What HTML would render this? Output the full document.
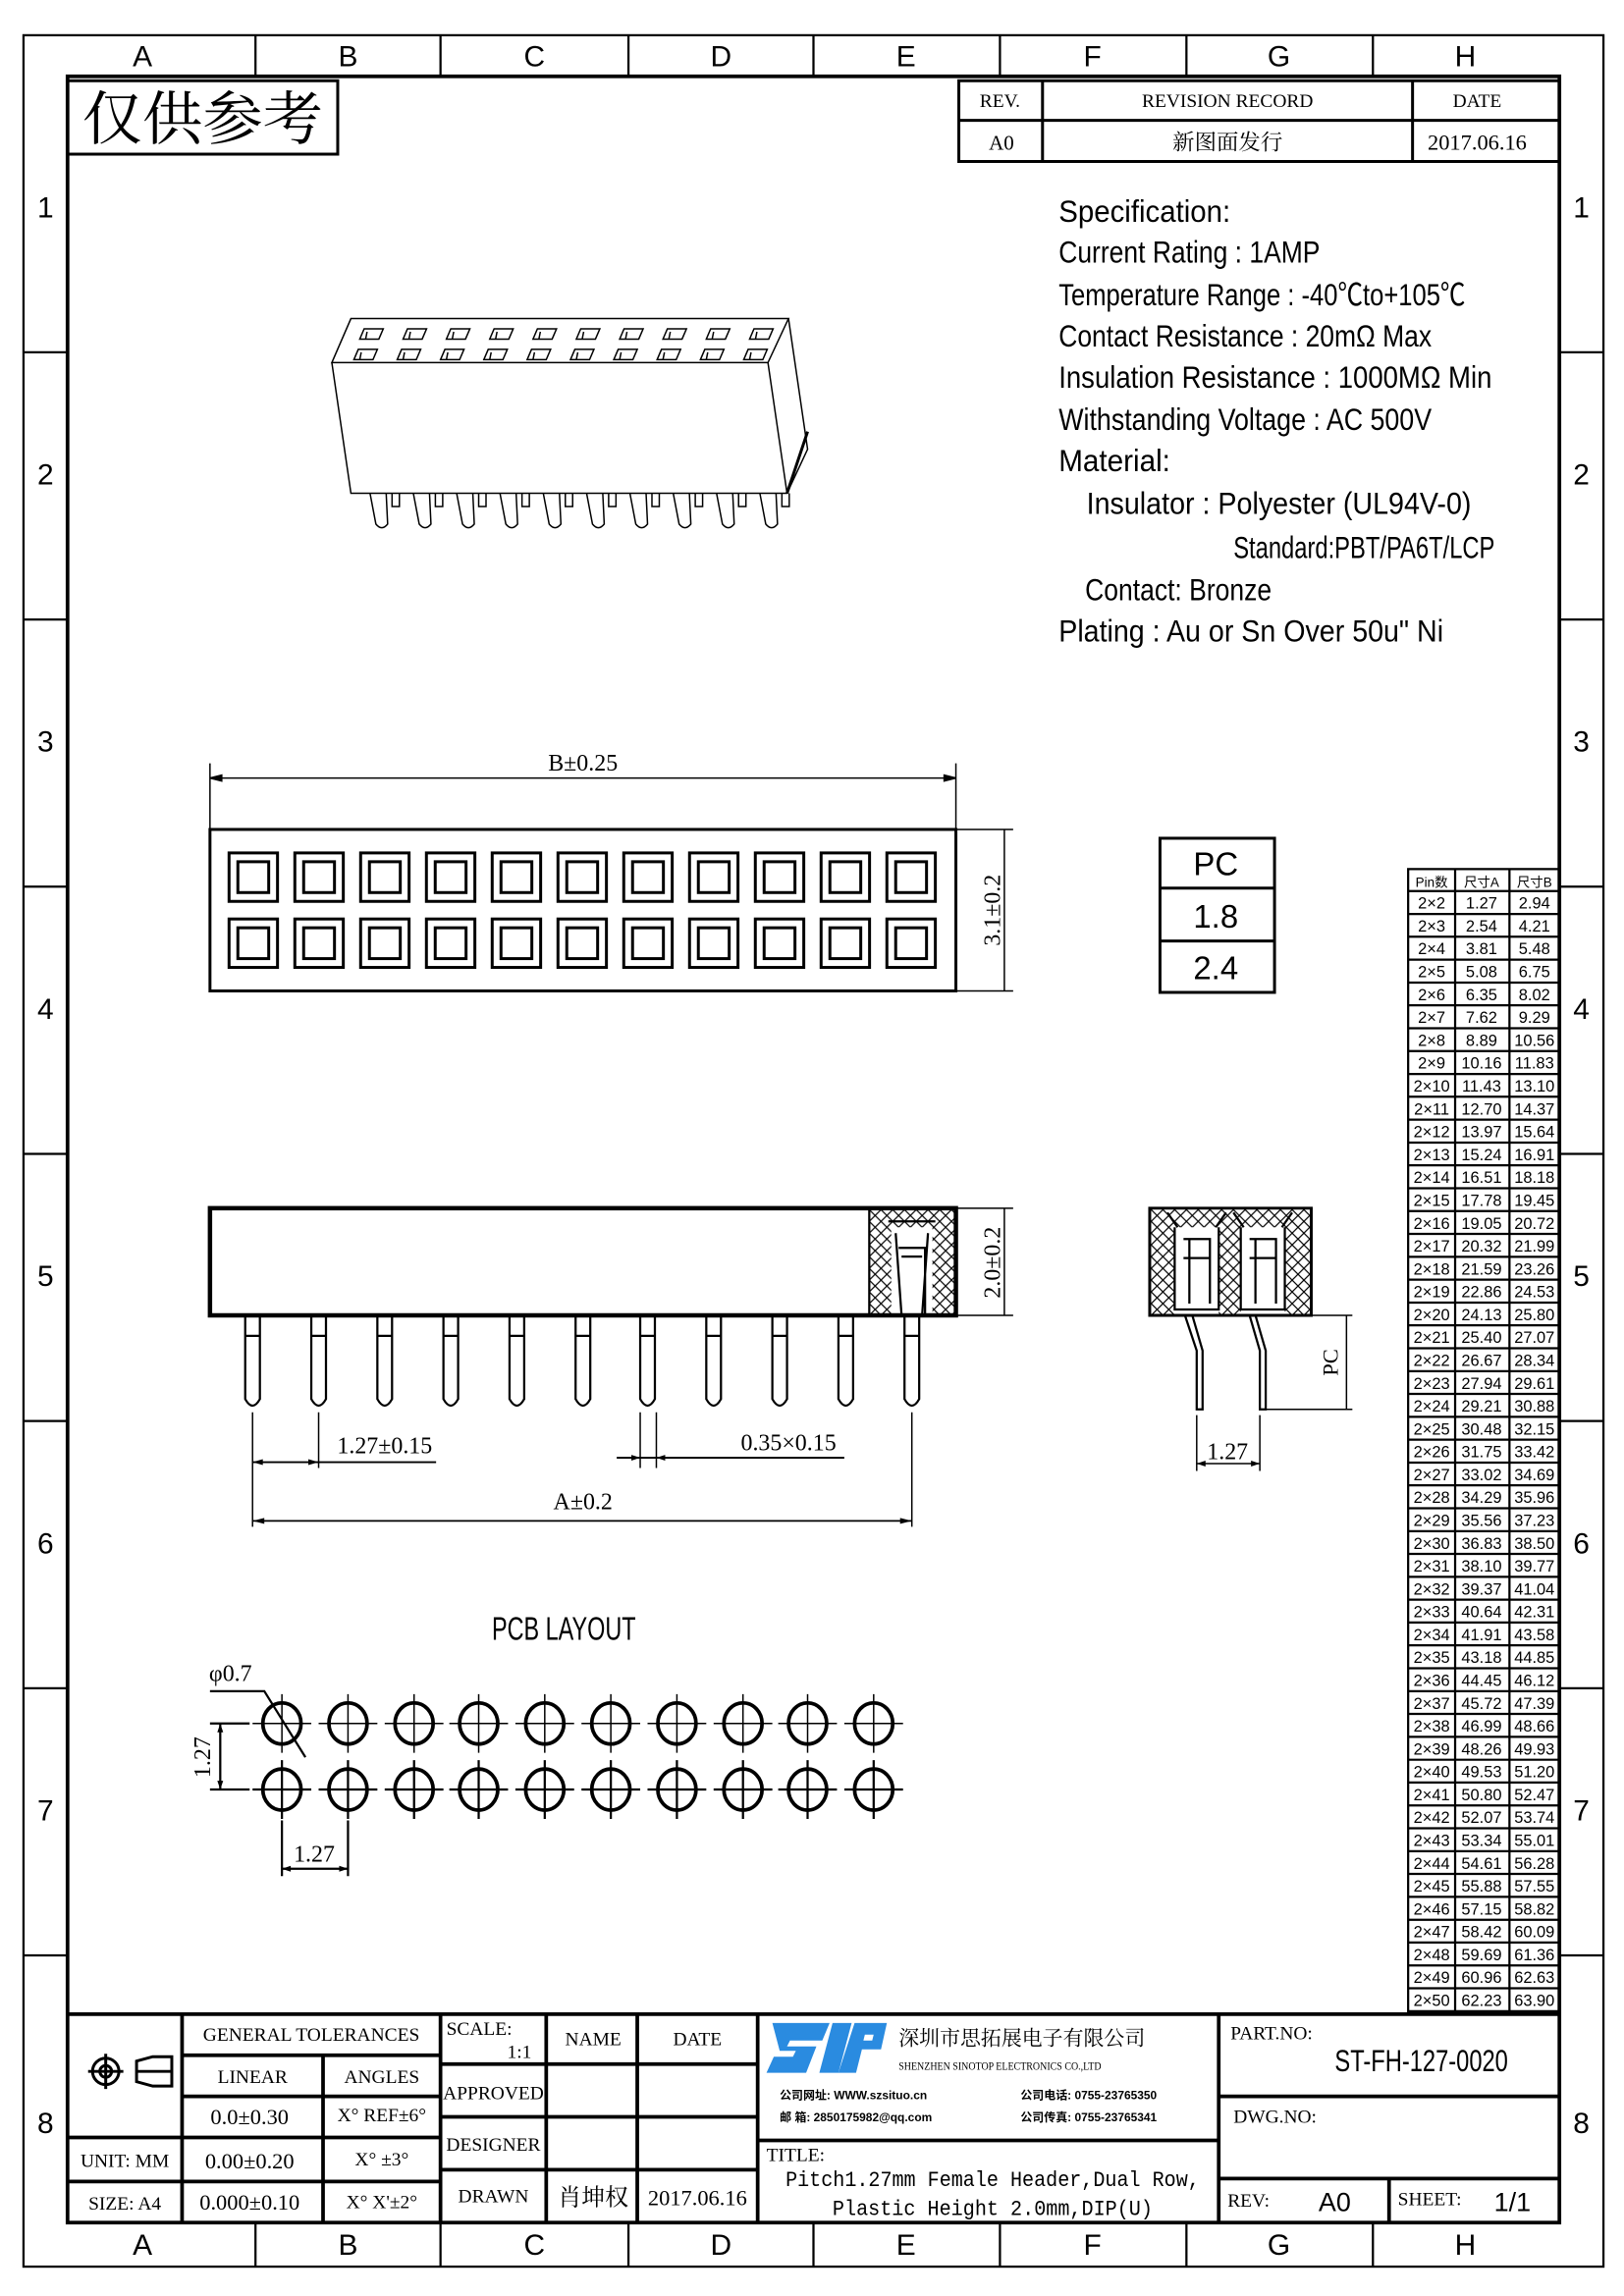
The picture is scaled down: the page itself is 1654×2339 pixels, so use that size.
<!DOCTYPE html>
<html><head><meta charset="utf-8"><style>
html,body{margin:0;padding:0;background:#fff}
svg{display:block}
text{font-family:"Liberation Sans Narrow","Liberation Sans","Noto Sans CJK SC",sans-serif;fill:#000}
.s{font-family:"Liberation Serif","Noto Serif CJK SC",serif}
.t{font-size:10px;text-anchor:middle}
</style></head><body>
<svg width="1654" height="2339" viewBox="0 0 1106 1564" preserveAspectRatio="none" xmlns="http://www.w3.org/2000/svg">
<defs>
<pattern id="h" width="8" height="8" patternUnits="userSpaceOnUse">
<path d="M0 0L8 8M8 0L0 8" stroke="#000" stroke-width="0.8"/>
</pattern>
</defs>
<rect width="1106" height="1564" fill="#fff"/>
<!-- frames -->
<rect x="16" y="24" width="1076" height="1520" fill="none" stroke="#000" stroke-width="1.5"/>
<rect x="46" y="52" width="1016" height="1462" fill="none" stroke="#000" stroke-width="2.5"/>
<g stroke="#000" stroke-width="1.5">
<path d="M174 24V52M300 24V52M428 24V52M554 24V52M681 24V52M808 24V52M935 24V52"/>
<path d="M174 1514V1544M300 1514V1544M428 1514V1544M554 1514V1544M681 1514V1544M808 1514V1544M935 1514V1544"/>
<path d="M16 240H46M16 422H46M16 604H46M16 786H46M16 968H46M16 1150H46M16 1332H46"/>
<path d="M1062 240H1092M1062 422H1092M1062 604H1092M1062 786H1092M1062 968H1092M1062 1150H1092M1062 1332H1092"/>
</g>
<g font-size="20" text-anchor="middle">
<text x="97" y="45">A</text><text x="237" y="45">B</text><text x="364" y="45">C</text><text x="491" y="45">D</text><text x="617" y="45">E</text><text x="744" y="45">F</text><text x="871" y="45">G</text><text x="998" y="45">H</text>
<text x="97" y="1536">A</text><text x="237" y="1536">B</text><text x="364" y="1536">C</text><text x="491" y="1536">D</text><text x="617" y="1536">E</text><text x="744" y="1536">F</text><text x="871" y="1536">G</text><text x="998" y="1536">H</text>
<text x="31" y="148">1</text><text x="31" y="330">2</text><text x="31" y="512">3</text><text x="31" y="694">4</text><text x="31" y="876">5</text><text x="31" y="1058">6</text><text x="31" y="1240">7</text><text x="31" y="1453">8</text>
<text x="1077" y="148">1</text><text x="1077" y="330">2</text><text x="1077" y="512">3</text><text x="1077" y="694">4</text><text x="1077" y="876">5</text><text x="1077" y="1058">6</text><text x="1077" y="1240">7</text><text x="1077" y="1453">8</text>
</g>
<!-- stamp -->
<rect x="46" y="55" width="184" height="50" fill="none" stroke="#000" stroke-width="2"/>
<text x="138" y="95" font-size="40" text-anchor="middle" class="s" textLength="164" lengthAdjust="spacingAndGlyphs">仅供参考</text>
<!-- revision -->
<g fill="none" stroke="#000" stroke-width="2"><rect x="653" y="55" width="409" height="55"/><path d="M710 55V110M962 55V110M653 82H1062"/></g>
<g font-size="13" text-anchor="middle" class="s">
<text x="681" y="73" class="s">REV.</text><text x="836" y="73" class="s">REVISION RECORD</text><text x="1006" y="73" class="s">DATE</text>
<text x="682" y="102" font-size="14" class="s">A0</text><text x="836" y="102" font-size="15" class="s">新图面发行</text><text x="1006" y="102" font-size="15" class="s">2017.06.16</text>
</g>
<!-- spec -->
<g font-size="21">
<text x="721" y="151" textLength="117" lengthAdjust="spacingAndGlyphs">Specification:</text>
<text x="721" y="179" textLength="178" lengthAdjust="spacingAndGlyphs">Current Rating : 1AMP</text>
<text x="721" y="208" textLength="277" lengthAdjust="spacingAndGlyphs">Temperature Range : -40℃to+105℃</text>
<text x="721" y="236" textLength="254" lengthAdjust="spacingAndGlyphs">Contact Resistance : 20mΩ Max</text>
<text x="721" y="264" textLength="295" lengthAdjust="spacingAndGlyphs">Insulation Resistance : 1000MΩ Min</text>
<text x="721" y="293" textLength="254" lengthAdjust="spacingAndGlyphs">Withstanding Voltage : AC 500V</text>
<text x="721" y="321" textLength="76" lengthAdjust="spacingAndGlyphs">Material:</text>
<text x="740" y="350" textLength="262" lengthAdjust="spacingAndGlyphs">Insulator : Polyester (UL94V-0)</text>
<text x="840" y="380" textLength="178" lengthAdjust="spacingAndGlyphs">Standard:PBT/PA6T/LCP</text>
<text x="739" y="409" textLength="127" lengthAdjust="spacingAndGlyphs">Contact: Bronze</text>
<text x="721" y="437" textLength="262" lengthAdjust="spacingAndGlyphs">Plating : Au or Sn Over 50u" Ni</text>
</g>
<!-- 3D view -->
<g fill="none" stroke="#000" stroke-width="1">
<path d="M239 217H537L523 247H226Z"/>
<path d="M226 247L239 336H536L523 247"/>
<path d="M537 217L550 306L536 336"/>
<path d="M550 294L536 336" stroke-width="2"/>
<g id="p3"><path d="M252 336L256 357Q260 362 264 357L263 336M267 336V345H272V336"/></g>
<use href="#p3" x="29.5"/><use href="#p3" x="59"/><use href="#p3" x="88.5"/><use href="#p3" x="118"/><use href="#p3" x="147.5"/><use href="#p3" x="177"/><use href="#p3" x="206.5"/><use href="#p3" x="236"/><use href="#p3" x="265.5"/>
<g id="hr1"><path d="M248 224H261L258 231H245Z M250 226L249 231"/></g>
<use href="#hr1" x="29.5"/><use href="#hr1" x="59"/><use href="#hr1" x="88.5"/><use href="#hr1" x="118"/><use href="#hr1" x="147.5"/><use href="#hr1" x="177"/><use href="#hr1" x="206.5"/><use href="#hr1" x="236"/><use href="#hr1" x="265.5"/>
<use href="#hr1" x="-4" y="14"/><use href="#hr1" x="25.5" y="14"/><use href="#hr1" x="55" y="14"/><use href="#hr1" x="84.5" y="14"/><use href="#hr1" x="114" y="14"/><use href="#hr1" x="143.5" y="14"/><use href="#hr1" x="173" y="14"/><use href="#hr1" x="202.5" y="14"/><use href="#hr1" x="232" y="14"/><use href="#hr1" x="261.5" y="14"/>
</g>
<!-- top view -->
<g fill="none" stroke="#000">
<path d="M143 520V565M651 520V565M143 530H651" stroke-width="1"/>
<path d="M143 530l8-2v4zM651 530l-8-2v4z" fill="#000"/>
<rect x="143" y="565" width="508" height="110" stroke-width="2"/>
<path d="M651 565H690M651 675H690M684 565V675" stroke-width="1"/>
<g id="sq" stroke-width="2"><rect x="156" y="581" width="33" height="33"/><rect x="162" y="587" width="21" height="21"/><rect x="156" y="626" width="33" height="33"/><rect x="162" y="632" width="21" height="21"/></g>
<use href="#sq" x="44.8"/><use href="#sq" x="89.6"/><use href="#sq" x="134.4"/><use href="#sq" x="179.2"/><use href="#sq" x="224"/><use href="#sq" x="268.8"/><use href="#sq" x="313.6"/><use href="#sq" x="358.4"/><use href="#sq" x="403.2"/><use href="#sq" x="448"/>
</g>
<text x="397" y="525" font-size="16" text-anchor="middle" class="s">B±0.25</text>
<text transform="translate(681 620) rotate(-90)" font-size="16" text-anchor="middle" class="s">3.1±0.2</text>
<!-- PC table -->
<g fill="none" stroke="#000" stroke-width="2"><rect x="790" y="571" width="78" height="105"/><path d="M790 605H868M790 641H868"/></g>
<g font-size="22" text-anchor="middle" font-family="Liberation Sans"><text x="828" y="596" style="font-family:'Liberation Sans'">PC</text><text x="828" y="632" style="font-family:'Liberation Sans'">1.8</text><text x="828" y="667" style="font-family:'Liberation Sans'">2.4</text></g>
<!-- side view -->
<g fill="none" stroke="#000">
<rect x="592" y="823" width="59" height="73" fill="url(#h)" stroke="none"/>
<rect x="607" y="836" width="28" height="60" fill="#fff" stroke="none"/>
<rect x="143" y="823" width="508" height="73" stroke-width="3"/>
<path d="M592 823V896" stroke-width="1.5"/>
<path d="M605 832H637M610 840L614 896M632 840L628 896M612 850H630V896M614 856H628" stroke-width="1.5"/>
<path d="M651 823H690M651 896H690M684 823V896" stroke-width="1"/>
<g id="pn" stroke-width="1.5"><path d="M167 896V953Q172 962 177 953V896M167 910H177"/></g>
<use href="#pn" x="45"/><use href="#pn" x="90"/><use href="#pn" x="135"/><use href="#pn" x="180"/><use href="#pn" x="225"/><use href="#pn" x="269"/><use href="#pn" x="314"/><use href="#pn" x="359"/><use href="#pn" x="404"/><use href="#pn" x="449"/>
<path d="M172 962V1040M217 962V1000M621 962V1040M436 962V1000M447 962V1000" stroke-width="1"/>
<path d="M172 996H297M420 993H575M172 1036H621" stroke-width="1.2"/>
</g>
<path d="M172 996l7-2v4zM217 996l-7-2v4zM436 993l-6-2v4zM447 993l6-2v4zM172 1036l8-2v4zM621 1036l-8-2v4z" fill="#000"/>
<text x="262" y="990" font-size="16" text-anchor="middle" class="s">1.27±0.15</text>
<text x="537" y="988" font-size="16" text-anchor="middle" class="s">0.35×0.15</text>
<text x="397" y="1028" font-size="16" text-anchor="middle" class="s">A±0.2</text>
<text transform="translate(681 860) rotate(-90)" font-size="16" text-anchor="middle" class="s">2.0±0.2</text>
<!-- end view -->
<g fill="none" stroke="#000">
<rect x="783" y="823" width="110" height="73" fill="url(#h)" stroke="none"/>
<rect x="800" y="836" width="30" height="60" fill="#fff" stroke="none"/>
<rect x="845" y="836" width="30" height="60" fill="#fff" stroke="none"/>
<path d="M783 896V823H893V896Z" stroke-width="2"/>
<path d="M800 836V892H830V836M845 836V892H875V836M795 826L802 836M835 826L828 836M840 826L847 836M880 826L873 836" stroke-width="1.5"/>
<path d="M806 844H824V888M810 844V888M806 857H824M851 844H869V888M855 844V888M851 857H869" stroke-width="1.5"/>
<path d="M807 896L815 920V960H819V920L812 896M851 896L858 920V960H862V920L855 896" stroke-width="1.5"/>
<path d="M893 896H921M862 960H921M917 896V960M815 964V1002M858 964V1002M815 997H858" stroke-width="1"/>
</g>
<path d="M815 997l6-2v4zM858 997l-6-2v4z" fill="#000"/>
<text x="836" y="994" font-size="16" text-anchor="middle" class="s">1.27</text>
<text transform="translate(911 928) rotate(-90)" font-size="15" text-anchor="middle" class="s">PC</text>
<!-- PCB layout -->
<text x="384" y="1117" font-size="22" text-anchor="middle" textLength="98" lengthAdjust="spacingAndGlyphs">PCB LAYOUT</text>
<text x="157" y="1145" font-size="16" text-anchor="middle" class="s">φ0.7</text>
<g fill="none" stroke="#000">
<g id="hl"><ellipse cx="192" cy="1174" rx="13" ry="14" stroke-width="2.5"/><path d="M172 1174H212M192 1154V1194" stroke-width="1"/><ellipse cx="192" cy="1219" rx="13" ry="14" stroke-width="2.5"/><path d="M172 1219H212M192 1199V1239" stroke-width="1.5"/></g>
<use href="#hl" x="45"/><use href="#hl" x="90"/><use href="#hl" x="134"/><use href="#hl" x="179"/><use href="#hl" x="224"/><use href="#hl" x="269"/><use href="#hl" x="314"/><use href="#hl" x="358"/><use href="#hl" x="403"/>
<path d="M143 1152H180L208 1197" stroke-width="1.5"/>
<path d="M143 1174H170M143 1219H170M150 1174V1219" stroke-width="1.5"/>
<path d="M192 1240V1278M237 1240V1278M192 1273H237" stroke-width="1.5"/>
</g>
<path d="M150 1174l-2 6h4zM150 1219l-2-6h4zM192 1273l6-2v4zM237 1273l-6-2v4z" fill="#000"/>
<text transform="translate(143 1197) rotate(-90)" font-size="16" text-anchor="middle" class="s">1.27</text>
<text x="214" y="1268" font-size="16" text-anchor="middle" class="s">1.27</text>
<!-- right table -->
<g fill="none" stroke="#000" stroke-width="1.5">
<rect x="959" y="592" width="103" height="778"/>
<path d="M991 592V1370M1028 592V1370"/>
<path d="M959 607H1062M959 622.6H1062M959 638.1H1062M959 653.7H1062M959 669.3H1062M959 684.8H1062M959 700.4H1062M959 716H1062M959 731.6H1062M959 747.1H1062M959 762.7H1062M959 778.3H1062M959 793.8H1062M959 809.4H1062M959 825H1062M959 840.5H1062M959 856.1H1062M959 871.7H1062M959 887.3H1062M959 902.8H1062M959 918.4H1062M959 934H1062M959 949.5H1062M959 965.1H1062M959 980.7H1062M959 996.3H1062M959 1011.8H1062M959 1027.4H1062M959 1043H1062M959 1058.5H1062M959 1074.1H1062M959 1089.7H1062M959 1105.2H1062M959 1120.8H1062M959 1136.4H1062M959 1152H1062M959 1167.5H1062M959 1183.1H1062M959 1198.7H1062M959 1214.2H1062M959 1229.8H1062M959 1245.4H1062M959 1261H1062M959 1276.5H1062M959 1292.1H1062M959 1307.7H1062M959 1323.2H1062M959 1338.8H1062M959 1354.4H1062"/>
</g>
<g class="t">
<text x="975" y="604" font-size="9">Pin数</text><text x="1009" y="604" font-size="9">尺寸A</text><text x="1045" y="604" font-size="9">尺寸B</text>
</g>
<g font-size="11" text-anchor="middle">
<text x="975" y="619">2×2</text><text x="1009" y="619">1.27</text><text x="1045" y="619">2.94</text>
<text x="975" y="634.6">2×3</text><text x="1009" y="634.6">2.54</text><text x="1045" y="634.6">4.21</text>
<text x="975" y="650.1">2×4</text><text x="1009" y="650.1">3.81</text><text x="1045" y="650.1">5.48</text>
<text x="975" y="665.7">2×5</text><text x="1009" y="665.7">5.08</text><text x="1045" y="665.7">6.75</text>
<text x="975" y="681.3">2×6</text><text x="1009" y="681.3">6.35</text><text x="1045" y="681.3">8.02</text>
<text x="975" y="696.8">2×7</text><text x="1009" y="696.8">7.62</text><text x="1045" y="696.8">9.29</text>
<text x="975" y="712.4">2×8</text><text x="1009" y="712.4">8.89</text><text x="1045" y="712.4">10.56</text>
<text x="975" y="728">2×9</text><text x="1009" y="728">10.16</text><text x="1045" y="728">11.83</text>
<text x="975" y="743.6">2×10</text><text x="1009" y="743.6">11.43</text><text x="1045" y="743.6">13.10</text>
<text x="975" y="759.1">2×11</text><text x="1009" y="759.1">12.70</text><text x="1045" y="759.1">14.37</text>
<text x="975" y="774.7">2×12</text><text x="1009" y="774.7">13.97</text><text x="1045" y="774.7">15.64</text>
<text x="975" y="790.3">2×13</text><text x="1009" y="790.3">15.24</text><text x="1045" y="790.3">16.91</text>
<text x="975" y="805.8">2×14</text><text x="1009" y="805.8">16.51</text><text x="1045" y="805.8">18.18</text>
<text x="975" y="821.4">2×15</text><text x="1009" y="821.4">17.78</text><text x="1045" y="821.4">19.45</text>
<text x="975" y="837">2×16</text><text x="1009" y="837">19.05</text><text x="1045" y="837">20.72</text>
<text x="975" y="852.5">2×17</text><text x="1009" y="852.5">20.32</text><text x="1045" y="852.5">21.99</text>
<text x="975" y="868.1">2×18</text><text x="1009" y="868.1">21.59</text><text x="1045" y="868.1">23.26</text>
<text x="975" y="883.7">2×19</text><text x="1009" y="883.7">22.86</text><text x="1045" y="883.7">24.53</text>
<text x="975" y="899.3">2×20</text><text x="1009" y="899.3">24.13</text><text x="1045" y="899.3">25.80</text>
<text x="975" y="914.8">2×21</text><text x="1009" y="914.8">25.40</text><text x="1045" y="914.8">27.07</text>
<text x="975" y="930.4">2×22</text><text x="1009" y="930.4">26.67</text><text x="1045" y="930.4">28.34</text>
<text x="975" y="946">2×23</text><text x="1009" y="946">27.94</text><text x="1045" y="946">29.61</text>
<text x="975" y="961.5">2×24</text><text x="1009" y="961.5">29.21</text><text x="1045" y="961.5">30.88</text>
<text x="975" y="977.1">2×25</text><text x="1009" y="977.1">30.48</text><text x="1045" y="977.1">32.15</text>
<text x="975" y="992.7">2×26</text><text x="1009" y="992.7">31.75</text><text x="1045" y="992.7">33.42</text>
<text x="975" y="1008.3">2×27</text><text x="1009" y="1008.3">33.02</text><text x="1045" y="1008.3">34.69</text>
<text x="975" y="1023.8">2×28</text><text x="1009" y="1023.8">34.29</text><text x="1045" y="1023.8">35.96</text>
<text x="975" y="1039.4">2×29</text><text x="1009" y="1039.4">35.56</text><text x="1045" y="1039.4">37.23</text>
<text x="975" y="1055">2×30</text><text x="1009" y="1055">36.83</text><text x="1045" y="1055">38.50</text>
<text x="975" y="1070.5">2×31</text><text x="1009" y="1070.5">38.10</text><text x="1045" y="1070.5">39.77</text>
<text x="975" y="1086.1">2×32</text><text x="1009" y="1086.1">39.37</text><text x="1045" y="1086.1">41.04</text>
<text x="975" y="1101.7">2×33</text><text x="1009" y="1101.7">40.64</text><text x="1045" y="1101.7">42.31</text>
<text x="975" y="1117.2">2×34</text><text x="1009" y="1117.2">41.91</text><text x="1045" y="1117.2">43.58</text>
<text x="975" y="1132.8">2×35</text><text x="1009" y="1132.8">43.18</text><text x="1045" y="1132.8">44.85</text>
<text x="975" y="1148.4">2×36</text><text x="1009" y="1148.4">44.45</text><text x="1045" y="1148.4">46.12</text>
<text x="975" y="1164">2×37</text><text x="1009" y="1164">45.72</text><text x="1045" y="1164">47.39</text>
<text x="975" y="1179.5">2×38</text><text x="1009" y="1179.5">46.99</text><text x="1045" y="1179.5">48.66</text>
<text x="975" y="1195.1">2×39</text><text x="1009" y="1195.1">48.26</text><text x="1045" y="1195.1">49.93</text>
<text x="975" y="1210.7">2×40</text><text x="1009" y="1210.7">49.53</text><text x="1045" y="1210.7">51.20</text>
<text x="975" y="1226.2">2×41</text><text x="1009" y="1226.2">50.80</text><text x="1045" y="1226.2">52.47</text>
<text x="975" y="1241.8">2×42</text><text x="1009" y="1241.8">52.07</text><text x="1045" y="1241.8">53.74</text>
<text x="975" y="1257.4">2×43</text><text x="1009" y="1257.4">53.34</text><text x="1045" y="1257.4">55.01</text>
<text x="975" y="1273">2×44</text><text x="1009" y="1273">54.61</text><text x="1045" y="1273">56.28</text>
<text x="975" y="1288.5">2×45</text><text x="1009" y="1288.5">55.88</text><text x="1045" y="1288.5">57.55</text>
<text x="975" y="1304.1">2×46</text><text x="1009" y="1304.1">57.15</text><text x="1045" y="1304.1">58.82</text>
<text x="975" y="1319.7">2×47</text><text x="1009" y="1319.7">58.42</text><text x="1045" y="1319.7">60.09</text>
<text x="975" y="1335.2">2×48</text><text x="1009" y="1335.2">59.69</text><text x="1045" y="1335.2">61.36</text>
<text x="975" y="1350.8">2×49</text><text x="1009" y="1350.8">60.96</text><text x="1045" y="1350.8">62.63</text>
<text x="975" y="1366.4">2×50</text><text x="1009" y="1366.4">62.23</text><text x="1045" y="1366.4">63.90</text>
</g>
<!-- title block -->
<g fill="none" stroke="#000" stroke-width="2.5">
<path d="M46 1372H1062"/>
<path d="M124 1372V1514M300 1372V1514M372 1372V1514M434 1372V1514M516 1372V1514M830 1372V1514"/>
<path d="M220 1400V1514M124 1400H300M124 1428H300M46 1456H300M46 1486H300"/>
<path d="M300 1406H516M300 1442H516M300 1478H516"/>
<path d="M516 1458H830M830 1428H1062M830 1484H1062M946 1484V1514"/>
</g>
<!-- symbols -->
<g fill="none" stroke="#000" stroke-width="2">
<circle cx="72" cy="1411" r="9"/><circle cx="72" cy="1411" r="4"/><path d="M60 1411H84M72 1399V1423"/>
<path d="M92 1411H117M93 1404L104 1401H117V1421H104L93 1418Z"/>
</g>
<g font-size="13" text-anchor="middle" class="s">
<text x="212" y="1390" class="s">GENERAL TOLERANCES</text>
<text x="172" y="1419" class="s">LINEAR</text><text x="260" y="1419" class="s">ANGLES</text>
<text x="170" y="1447" font-size="15" class="s">0.0±0.30</text><text x="260" y="1445" class="s">X° REF±6°</text>
<text x="85" y="1476" class="s">UNIT: MM</text><text x="170" y="1477" font-size="15" class="s">0.00±0.20</text><text x="260" y="1475" class="s">X° ±3°</text>
<text x="85" y="1505" class="s">SIZE: A4</text><text x="170" y="1505" font-size="15" class="s">0.000±0.10</text><text x="260" y="1504" class="s">X° X'±2°</text>
<text x="404" y="1393" class="s">NAME</text><text x="475" y="1393" class="s">DATE</text>
<text x="336" y="1430" class="s">APPROVED</text><text x="336" y="1465" class="s">DESIGNER</text><text x="336" y="1500" class="s">DRAWN</text>
<text x="404" y="1502" font-size="16" class="s">肖坤权</text><text x="475" y="1502" font-size="15" class="s">2017.06.16</text>
</g>
<text x="304" y="1386" font-size="13" class="s">SCALE:</text>
<text x="362" y="1402" font-size="13" text-anchor="end" class="s">1:1</text>
<!-- logo -->
<g fill="#2a8be0">
<path d="M526 1378H565L560 1390H538L536 1394H556L549 1412H522L527 1401H540L542 1397H531Z"/>
<path d="M567 1378H580L571 1412H558Z"/>
<path d="M582 1378H604L600 1396H587L583 1412H571ZM589 1386L588 1390H594L595 1386Z"/>
</g>
<text x="612" y="1393" font-size="14" class="s">深圳市思拓展电子有限公司</text>
<text x="612" y="1410" font-size="8" class="s" textLength="138" lengthAdjust="spacingAndGlyphs">SHENZHEN SINOTOP ELECTRONICS CO.,LTD</text>
<g font-size="8" font-weight="bold">
<text x="531" y="1430">公司网址: WWW.szsituo.cn</text><text x="695" y="1430">公司电话: 0755-23765350</text>
<text x="531" y="1445">邮    箱: 2850175982@qq.com</text><text x="695" y="1445">公司传真: 0755-23765341</text>
</g>
<text x="522" y="1472" font-size="13" class="s">TITLE:</text>
<text x="676" y="1489" font-size="15" text-anchor="middle" font-family="Liberation Mono" style="font-family:'Liberation Mono',monospace" textLength="282" lengthAdjust="spacingAndGlyphs">Pitch1.27mm Female Header,Dual Row,</text>
<text x="676" y="1509" font-size="15" text-anchor="middle" style="font-family:'Liberation Mono',monospace" textLength="218" lengthAdjust="spacingAndGlyphs">Plastic Height 2.0mm,DIP(U)</text>
<text x="838" y="1389" font-size="13" class="s">PART.NO:</text>
<text x="968" y="1411" font-size="21" text-anchor="middle" textLength="118" lengthAdjust="spacingAndGlyphs">ST-FH-127-0020</text>
<text x="840" y="1446" font-size="13" class="s">DWG.NO:</text>
<text x="836" y="1503" font-size="13" class="s">REV:</text>
<text x="909" y="1506" font-size="18" text-anchor="middle">A0</text>
<text x="952" y="1502" font-size="13" class="s">SHEET:</text>
<text x="1030" y="1506" font-size="18" text-anchor="middle">1/1</text>
</svg>
</body></html>
